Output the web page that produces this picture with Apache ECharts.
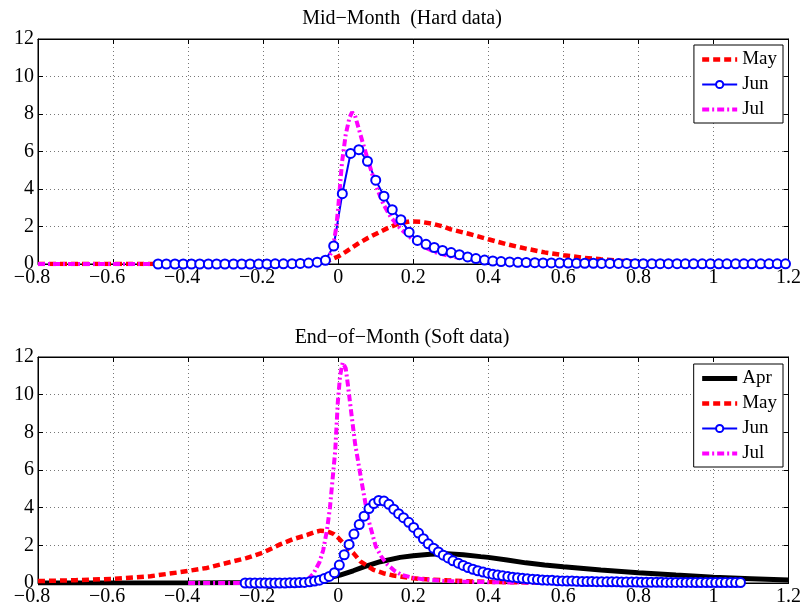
<!DOCTYPE html>
<html>
<head>
<meta charset="utf-8">
<script src="https://cdn.jsdelivr.net/npm/echarts@6/dist/echarts.min.js"></script>
<style>html,body{margin:0;padding:0;background:#fff}#c{width:804px;height:614px}</style>
</head>
<body>
<div id="c"></div>
<script>
// ---------- Titles / ticks ----------
const titles = ['Mid\u2212Month  (Hard data)', 'End\u2212of\u2212Month (Soft data)'];
const xMin = -0.8, xMax = 1.2, xStep = 0.2;
const yMin = 0, yMax = 12, yStep = 2;

// ---------- Top panel (Hard data) ----------
const topMayX = [-0.8,-0.6,-0.4,-0.2,-0.1,-0.06,-0.03,0,0.02,0.05,0.08,0.1,0.13,0.16,0.19,0.22,0.25,0.28,0.3,0.35,0.4,0.45,0.5,0.55,0.6,0.65,0.7,0.75,0.8,0.85,0.9,1.0,1.1,1.2];
const topMayY = [0,0,0,0.01,0.03,0.06,0.15,0.4,0.65,1.05,1.4,1.6,1.9,2.15,2.27,2.25,2.15,2.0,1.85,1.6,1.32,1.05,0.82,0.62,0.47,0.34,0.25,0.17,0.13,0.1,0.07,0.04,0.02,0.01];

const topJunX = [-0.480,-0.458,-0.435,-0.413,-0.391,-0.369,-0.346,-0.324,-0.302,-0.279,-0.257,-0.235,-0.212,-0.190,-0.168,-0.146,-0.123,-0.101,-0.079,-0.056,-0.034,-0.012,0.011,0.033,0.055,0.078,0.100,0.122,0.144,0.167,0.189,0.211,0.234,0.256,0.278,0.301,0.323,0.345,0.367,0.390,0.412,0.434,0.457,0.479,0.501,0.524,0.546,0.568,0.590,0.613,0.635,0.657,0.680,0.702,0.724,0.747,0.769,0.791,0.813,0.836,0.858,0.880,0.903,0.925,0.947,0.970,0.992,1.014,1.036,1.059,1.081,1.103,1.126,1.148,1.170,1.192];
const topJunY = [0,0,0,0,0,0,0,0,0,0,0,0,0,0,0.01,0.01,0.02,0.03,0.05,0.1,0.2,0.96,3.75,5.9,6.1,5.48,4.47,3.62,2.9,2.36,1.7,1.26,1.05,0.88,0.72,0.61,0.5,0.38,0.29,0.21,0.16,0.13,0.11,0.09,0.08,0.07,0.06,0.06,0.05,0.05,0.04,0.04,0.04,0.03,0.03,0.03,0.03,0.02,0.02,0.02,0.02,0.02,0.02,0.01,0.01,0.01,0.01,0.01,0.01,0.01,0.01,0.01,0.01,0.01,0.01,0.01];

const topJulX = [-0.8,-0.5,-0.3,-0.15,-0.08,-0.05,-0.03,-0.015,-0.005,0,0.01,0.02,0.03,0.037,0.045,0.055,0.065,0.08,0.1,0.12,0.14,0.165,0.19,0.21,0.23,0.26,0.3,0.35,0.4,0.45,0.5,0.6,0.75];
const topJulY = [0,0,0,0.01,0.04,0.1,0.25,0.7,2.0,3.0,5.4,6.9,7.8,8.1,7.9,7.2,6.5,5.5,4.2,3.2,2.5,1.9,1.45,1.15,0.9,0.62,0.4,0.25,0.14,0.08,0.05,0.03,0.01];

// ---------- Bottom panel (Soft data) ----------
const botAprX = [-0.8,-0.4,-0.2,-0.1,-0.05,-0.02,0.005,0.04,0.068,0.112,0.165,0.2,0.245,0.29,0.333,0.38,0.4,0.45,0.5,0.55,0.6,0.7,0.8,0.9,1.0,1.1,1.2];
const botAprY = [0,0,0.02,0.07,0.17,0.3,0.42,0.65,0.86,1.13,1.36,1.45,1.53,1.56,1.5,1.4,1.36,1.22,1.07,0.96,0.86,0.69,0.55,0.42,0.3,0.23,0.16];

const botMayX = [-0.8,-0.7,-0.6,-0.5,-0.42,-0.35,-0.3,-0.245,-0.2,-0.155,-0.12,-0.083,-0.06,-0.047,-0.03,-0.012,0,0.023,0.04,0.059,0.077,0.094,0.12,0.147,0.2,0.25,0.29,0.35,0.4,0.5,0.6,0.8];
const botMayY = [0.1,0.15,0.22,0.36,0.58,0.8,1.05,1.32,1.62,2.05,2.33,2.55,2.72,2.78,2.75,2.6,2.4,1.92,1.6,1.15,0.92,0.7,0.52,0.4,0.25,0.18,0.14,0.09,0.06,0.03,0.01,0.0];

const botJunX = [-0.248,-0.235,-0.222,-0.208,-0.195,-0.182,-0.169,-0.156,-0.142,-0.129,-0.116,-0.103,-0.090,-0.076,-0.063,-0.050,-0.037,-0.024,-0.010,0.003,0.016,0.029,0.042,0.056,0.069,0.082,0.095,0.108,0.122,0.135,0.148,0.161,0.174,0.188,0.201,0.214,0.227,0.240,0.254,0.267,0.280,0.293,0.306,0.320,0.333,0.346,0.359,0.372,0.386,0.399,0.412,0.425,0.438,0.452,0.465,0.478,0.491,0.504,0.518,0.531,0.544,0.557,0.570,0.584,0.597,0.610,0.623,0.636,0.650,0.663,0.676,0.689,0.702,0.716,0.729,0.742,0.755,0.768,0.782,0.795,0.808,0.821,0.834,0.848,0.861,0.874,0.887,0.900,0.914,0.927,0.940,0.953,0.966,0.980,0.993,1.006,1.019,1.032,1.046,1.059,1.072];
const botJunY = [0,0,0,0,0,0,0,0,0,0.01,0.01,0.02,0.03,0.06,0.1,0.15,0.24,0.35,0.55,0.95,1.5,2.05,2.6,3.1,3.55,3.95,4.22,4.38,4.35,4.18,3.92,3.68,3.47,3.22,2.95,2.65,2.35,2.08,1.85,1.65,1.48,1.33,1.18,1.05,0.93,0.82,0.73,0.65,0.58,0.52,0.47,0.42,0.38,0.34,0.31,0.28,0.25,0.22,0.2,0.18,0.16,0.15,0.14,0.12,0.11,0.1,0.1,0.09,0.08,0.08,0.08,0.07,0.07,0.06,0.06,0.06,0.05,0.05,0.05,0.05,0.04,0.04,0.04,0.04,0.04,0.03,0.03,0.03,0.03,0.03,0.03,0.02,0.02,0.02,0.02,0.02,0.02,0.02,0.02,0.02,0.02];

const botJulX = [-0.4,-0.2,-0.12,-0.08,-0.066,-0.05,-0.04,-0.03,-0.022,-0.015,-0.008,-0.001,0.005,0.012,0.02,0.026,0.032,0.045,0.063,0.08,0.1,0.115,0.13,0.15,0.17,0.2,0.225,0.29,0.35,0.45,0.6];
const botJulY = [0,0,0.05,0.2,0.5,1.1,1.74,2.8,4.0,5.5,7.0,9.6,11.0,11.7,11.4,10.5,9.5,7.4,5.3,3.4,1.95,1.4,1.0,0.65,0.42,0.28,0.2,0.1,0.06,0.03,0.01];

// ---------- Build ----------
const FONT = '"Liberation Serif","Times New Roman",serif';
const zip = (xs, ys) => xs.map((x, i) => [x, ys[i]]);
const fmt = v => String(+v.toFixed(2)).replace('-', '\u2212');

const grids = [
  {left: 38, top: 39, width: 751, height: 225, show: true, borderColor: '#000', borderWidth: 1, backgroundColor: '#fff'},
  {left: 38, top: 357, width: 751, height: 226, show: true, borderColor: '#000', borderWidth: 1, backgroundColor: '#fff'}
];

function xAxes(gi) {
  return [{
    type: 'value', gridIndex: gi, min: xMin, max: xMax, interval: xStep, position: 'bottom',
    axisLine: {show: true, onZero: false, lineStyle: {color: '#000', width: 1}},
    axisTick: {show: true, inside: true, length: 5, lineStyle: {color: '#000'}},
    axisLabel: {
      margin: 4, color: '#000', fontFamily: FONT, fontSize: 20,
      formatter: v => v < 0 ? '{n|' + fmt(v) + '}' : '{p|' + fmt(v) + '}',
      rich: {
        n: {fontFamily: FONT, fontSize: 20, color: '#000', padding: [0, 12, 0, 0]},
        p: {fontFamily: FONT, fontSize: 20, color: '#000'}
      }
    },
    splitLine: {show: true, lineStyle: {color: '#777', width: 1, type: [1, 3]}}
  }, {
    type: 'value', gridIndex: gi, min: xMin, max: xMax, interval: xStep, position: 'top',
    axisLine: {show: true, onZero: false, lineStyle: {color: '#000', width: 1}},
    axisTick: {show: true, inside: true, length: 5, lineStyle: {color: '#000'}},
    axisLabel: {show: false}, splitLine: {show: false}
  }];
}
function yAxes(gi) {
  return [{
    type: 'value', gridIndex: gi, min: yMin, max: yMax, interval: yStep, position: 'left',
    axisLine: {show: true, onZero: false, lineStyle: {color: '#000', width: 1}},
    axisTick: {show: true, inside: true, length: 5, lineStyle: {color: '#000'}},
    axisLabel: {margin: 4, color: '#000', fontFamily: FONT, fontSize: 20, formatter: v => fmt(v)},
    splitLine: {show: true, lineStyle: {color: '#777', width: 1, type: [1, 3]}}
  }, {
    type: 'value', gridIndex: gi, min: yMin, max: yMax, interval: yStep, position: 'right',
    axisLine: {show: true, onZero: false, lineStyle: {color: '#000', width: 1}},
    axisTick: {show: true, inside: true, length: 5, lineStyle: {color: '#000'}},
    axisLabel: {show: false}, splitLine: {show: false}
  }];
}

const styles = {
  Apr: {color: '#000000', lineStyle: {color: '#000000', width: 5, type: 'solid'}, symbol: 'none'},
  May: {color: '#ff0000', lineStyle: {color: '#ff0000', width: 4.5, type: [7, 4]}, symbol: 'none'},
  Jun: {color: '#0000ff', lineStyle: {color: '#0000ff', width: 2, type: 'solid'}, symbol: 'emptyCircle', symbolSize: 9},
  Jul: {color: '#ff00ff', lineStyle: {color: '#ff00ff', width: 4, type: [7, 3, 2, 3]}, symbol: 'none'}
};

function mk(name, gi, xs, ys) {
  const s = styles[name];
  return {
    type: 'line', name: name, xAxisIndex: gi * 2, yAxisIndex: gi * 2,
    data: zip(xs, ys), showSymbol: s.symbol !== 'none', symbol: s.symbol, symbolSize: s.symbolSize || 0,
    itemStyle: {color: s.color, borderColor: s.color, borderWidth: 2},
    lineStyle: s.lineStyle, emphasis: {disabled: true}, silent: true, smooth: false, clip: true
  };
}

function legendItem(name) {
  const s = styles[name];
  const item = {name: name, lineStyle: Object.assign({}, s.lineStyle)};
  if (s.symbol === 'none') item.itemStyle = {opacity: 0};
  else item.itemStyle = {color: s.color, borderColor: s.color, borderWidth: 2};
  return item;
}

const legendCommon = {
  orient: 'vertical', right: 21, backgroundColor: '#fff', borderColor: '#000', borderWidth: 1,
  padding: [5, 6, 4, 6], itemWidth: 35, itemHeight: 9, itemGap: 6,
  textStyle: {fontFamily: FONT, fontSize: 19, color: '#000', lineHeight: 19},
  selectedMode: false
};

const topSeries = [
  mk('May', 0, topMayX, topMayY),
  mk('Jun', 0, topJunX, topJunY),
  mk('Jul', 0, topJulX, topJulY)
];
const botSeries = [
  mk('Apr', 1, botAprX, botAprY),
  mk('May', 1, botMayX, botMayY),
  mk('Jun', 1, botJunX, botJunY),
  mk('Jul', 1, botJulX, botJulY)
];
const option = {
  animation: false,
  backgroundColor: '#fff',
  title: [
    {text: titles[0], left: 'center', top: 4, textStyle: {fontFamily: FONT, fontSize: 20, fontWeight: 'normal', color: '#000'}},
    {text: titles[1], left: 'center', top: 323, textStyle: {fontFamily: FONT, fontSize: 20, fontWeight: 'normal', color: '#000'}}
  ],
  grid: grids,
  xAxis: [...xAxes(0), ...xAxes(1)],
  yAxis: [...yAxes(0), ...yAxes(1)],
  legend: [
    Object.assign({}, legendCommon, {top: 45, data: ['May', 'Jun', 'Jul'].map(legendItem)}),
    Object.assign({}, legendCommon, {top: 364, data: ['Apr', 'May', 'Jun', 'Jul'].map(legendItem)})
  ],
  series: [...topSeries, ...botSeries]
};
const chart = echarts.init(document.getElementById('c'), null, {renderer: 'canvas'});
chart.setOption(option);
</script>
</body>
</html>
